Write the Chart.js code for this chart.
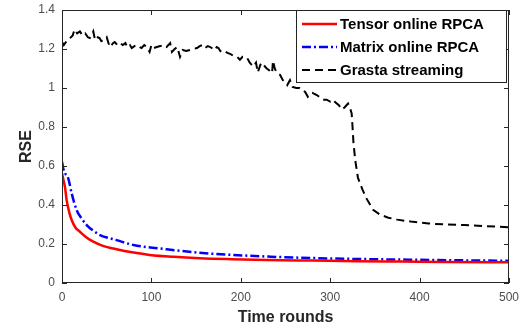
<!DOCTYPE html>
<html>
<head>
<meta charset="utf-8">
<script src="https://cdn.jsdelivr.net/npm/chart.js@4.4.1/dist/chart.umd.min.js"></script>
<style>
  html, body { margin: 0; padding: 0; background: #fff; }
  canvas { display: block; }
</style>
</head>
<body>
<canvas id="rseChart" width="530" height="329"></canvas>
<script>
// ===== data =====
const xTicks = [0, 100, 200, 300, 400, 500];
const yTicks = [0, 0.2, 0.4, 0.6, 0.8, 1, 1.2, 1.4];

const seriesLabels = ["Tensor online RPCA", "Matrix online RPCA", "Grasta streaming"];

const tensorX = [0, 2, 3.4, 5.2, 8, 10.8, 15, 20, 27, 35, 45, 61, 80, 98, 125, 154, 190, 229, 280, 330, 380, 430, 500];
const tensorY = [0.563, 0.52, 0.49, 0.425, 0.365, 0.323, 0.285, 0.263, 0.235, 0.212, 0.192, 0.173, 0.156, 0.144, 0.134, 0.127, 0.122, 0.118, 0.115, 0.112, 0.110, 0.108, 0.106];

const matrixX = [0, 1.5, 3.4, 7, 10.8, 16.4, 22, 27.6, 35, 42.5, 61, 80, 117, 154, 191, 233, 280, 333, 400, 450, 500];
const matrixY = [0.622, 0.585, 0.563, 0.537, 0.46, 0.374, 0.33, 0.297, 0.268, 0.246, 0.22, 0.195, 0.173, 0.155, 0.144, 0.135, 0.128, 0.123, 0.119, 0.116, 0.114];

const grastaX = [0, 2, 5, 9, 12, 14, 17, 20, 23, 26, 29, 31, 33, 35, 37, 40, 42, 44, 46, 48, 50, 52, 54, 57, 59,
  62, 65, 68, 71, 73, 76, 78, 81, 84, 87, 89, 92, 95, 98, 100, 103, 106, 110, 113, 117, 121, 123, 126, 129, 132,
  135, 139, 143, 147, 151, 154, 157, 160, 163, 166, 169, 171, 173, 175, 177, 179, 182, 185, 188, 190, 193, 196, 199,
  202, 205, 207, 210, 212, 214, 217, 219, 222, 224, 227, 229, 232, 235, 236, 238, 240, 244, 247, 250, 252, 255, 258,
  262, 266, 269, 272, 275, 278, 280, 285, 289, 292, 296, 300, 303, 306, 310, 313, 316, 318, 320, 322, 324, 325, 326,
  328, 331, 336, 341, 348, 356, 365, 375, 390, 410, 430, 450, 470, 490, 500];
const grastaY = [1.236, 1.22, 1.24, 1.256, 1.27, 1.30, 1.28, 1.29, 1.27, 1.28, 1.26, 1.256, 1.27, 1.29, 1.246, 1.26, 1.256, 1.24, 1.246, 1.25, 1.26, 1.23, 1.21, 1.23, 1.236,
  1.22, 1.23, 1.22, 1.23, 1.21, 1.22, 1.205, 1.215, 1.22, 1.21, 1.205, 1.22, 1.21, 1.185, 1.22, 1.205, 1.21, 1.215, 1.22, 1.21, 1.23, 1.185, 1.20, 1.21, 1.16,
  1.195, 1.19, 1.195, 1.20, 1.205, 1.215, 1.22, 1.205, 1.215, 1.21, 1.20, 1.195, 1.21, 1.205, 1.19, 1.185, 1.19, 1.18, 1.175, 1.17, 1.165, 1.16, 1.145,
  1.16, 1.16, 1.155, 1.13, 1.12, 1.11, 1.13, 1.08, 1.12, 1.13, 1.11, 1.10, 1.09, 1.077, 1.14, 1.10, 1.08, 1.067, 1.04, 1.03, 1.015, 1.04, 1.005,
  1.00, 1.00, 0.99, 0.98, 0.955, 0.97, 0.975, 0.964, 0.95, 0.94, 0.94, 0.93, 0.94, 0.925, 0.91, 0.89, 0.90, 0.91, 0.92, 0.90, 0.87, 0.80, 0.72,
  0.63, 0.54, 0.48, 0.43, 0.375, 0.35, 0.335, 0.325, 0.315, 0.305, 0.30, 0.297, 0.292, 0.288, 0.285];

const FONT = "'Liberation Sans', Arial, sans-serif";
const AXIS_COLOR = "#262626";

function pts(xs, ys) {
  return xs.map((x, i) => ({ x, y: ys[i] }));
}

// box round the axes + MATLAB style inward ticks
const boxTicks = {
  id: "boxTicks",
  afterDatasetsDraw(chart) {
    const { ctx, chartArea: a, scales } = chart;
    const len = 5;
    ctx.save();
    ctx.strokeStyle = AXIS_COLOR;
    ctx.lineWidth = 1;
    ctx.strokeRect(a.left + 0.5, a.top + 0.5, a.right - a.left - 1, a.bottom - a.top - 1);
    ctx.beginPath();
    scales.x.ticks.forEach(t => {
      const px = Math.round(scales.x.getPixelForValue(t.value)) + 0.5;
      ctx.moveTo(px, a.bottom); ctx.lineTo(px, a.bottom - len);
      ctx.moveTo(px, a.top); ctx.lineTo(px, a.top + len);
    });
    scales.y.ticks.forEach(t => {
      const py = Math.round(scales.y.getPixelForValue(t.value)) + 0.5;
      ctx.moveTo(a.left, py); ctx.lineTo(a.left + len, py);
      ctx.moveTo(a.right, py); ctx.lineTo(a.right - len, py);
    });
    ctx.stroke();
    ctx.restore();
  },
};

// legend box in the top right corner
const boxLegend = {
  id: "boxLegend",
  afterDraw(chart) {
    const { ctx, chartArea: a } = chart;
    const w = 211, h = 73;
    const x0 = a.right - w - 2, y0 = a.top;
    ctx.save();
    ctx.fillStyle = "#fff";
    ctx.fillRect(x0, y0, w, h);
    ctx.strokeStyle = "#222";
    ctx.lineWidth = 1;
    ctx.strokeRect(x0 + 0.5, y0 + 0.5, w - 1, h - 1);
    ctx.font = "bold 15px " + FONT;
    ctx.textBaseline = "middle";
    chart.data.datasets.forEach((ds, i) => {
      const cy = y0 + 14 + i * 23;
      ctx.beginPath();
      ctx.strokeStyle = ds.borderColor;
      ctx.lineWidth = ds.borderWidth;
      ctx.setLineDash(ds.borderDash || []);
      ctx.moveTo(x0 + 6, cy);
      ctx.lineTo(x0 + 41, cy);
      ctx.stroke();
      ctx.setLineDash([]);
      ctx.fillStyle = "#000";
      ctx.fillText(ds.label, x0 + 44, cy + 1);
    });
    ctx.restore();
  },
};

const ctx = document.getElementById("rseChart").getContext("2d");
new Chart(ctx, {
  type: "line",
  data: {
    datasets: [
      { label: seriesLabels[0], data: pts(tensorX, tensorY), borderColor: "#ff0000", borderWidth: 2.5, pointRadius: 0, cubicInterpolationMode: "monotone", fill: false },
      { label: seriesLabels[1], data: pts(matrixX, matrixY), borderColor: "#0000ff", borderWidth: 2.5, borderDash: [9, 3, 2, 3], pointRadius: 0, cubicInterpolationMode: "monotone", fill: false },
      { label: seriesLabels[2], data: pts(grastaX, grastaY), borderColor: "#000000", borderWidth: 2, borderDash: [8, 5], pointRadius: 0, tension: 0, fill: false },
    ],
  },
  options: {
    responsive: false,
    animation: false,
    layout: { padding: { left: 0, right: 21, top: 10, bottom: 0 } },
    plugins: {
      legend: { display: false },
      tooltip: { enabled: false },
    },
    scales: {
      x: {
        type: "linear",
        min: 0,
        max: 500,
        afterBuildTicks: (s) => { s.ticks = xTicks.map(v => ({ value: v })); },
        afterFit: (s) => { s.height = 46; s.paddingLeft = 0; s.paddingRight = 0; },
        grid: { display: false, drawTicks: false },
        border: { display: false },
        ticks: { padding: 7, color: "#4d4d4d", font: { family: FONT, size: 12 }, maxRotation: 0 },
        title: { display: true, text: "Time rounds", color: AXIS_COLOR, font: { family: FONT, size: 16, weight: "bold" }, padding: { top: 0, bottom: 2 } },
      },
      y: {
        type: "linear",
        min: 0,
        max: 1.4,
        afterBuildTicks: (s) => { s.ticks = yTicks.map(v => ({ value: v })); },
        afterFit: (s) => { s.width = 62; s.paddingTop = 0; s.paddingBottom = 0; },
        grid: { display: false, drawTicks: false },
        border: { display: false },
        ticks: { padding: 7, color: "#4d4d4d", font: { family: FONT, size: 12 }, callback: (v) => String(Math.round(v * 10) / 10) },
        title: { display: true, text: "RSE", color: AXIS_COLOR, font: { family: FONT, size: 16, weight: "bold" }, padding: { top: 17, bottom: 0 } },
      },
    },
  },
  plugins: [boxTicks, boxLegend],
});
</script>
</body>
</html>
